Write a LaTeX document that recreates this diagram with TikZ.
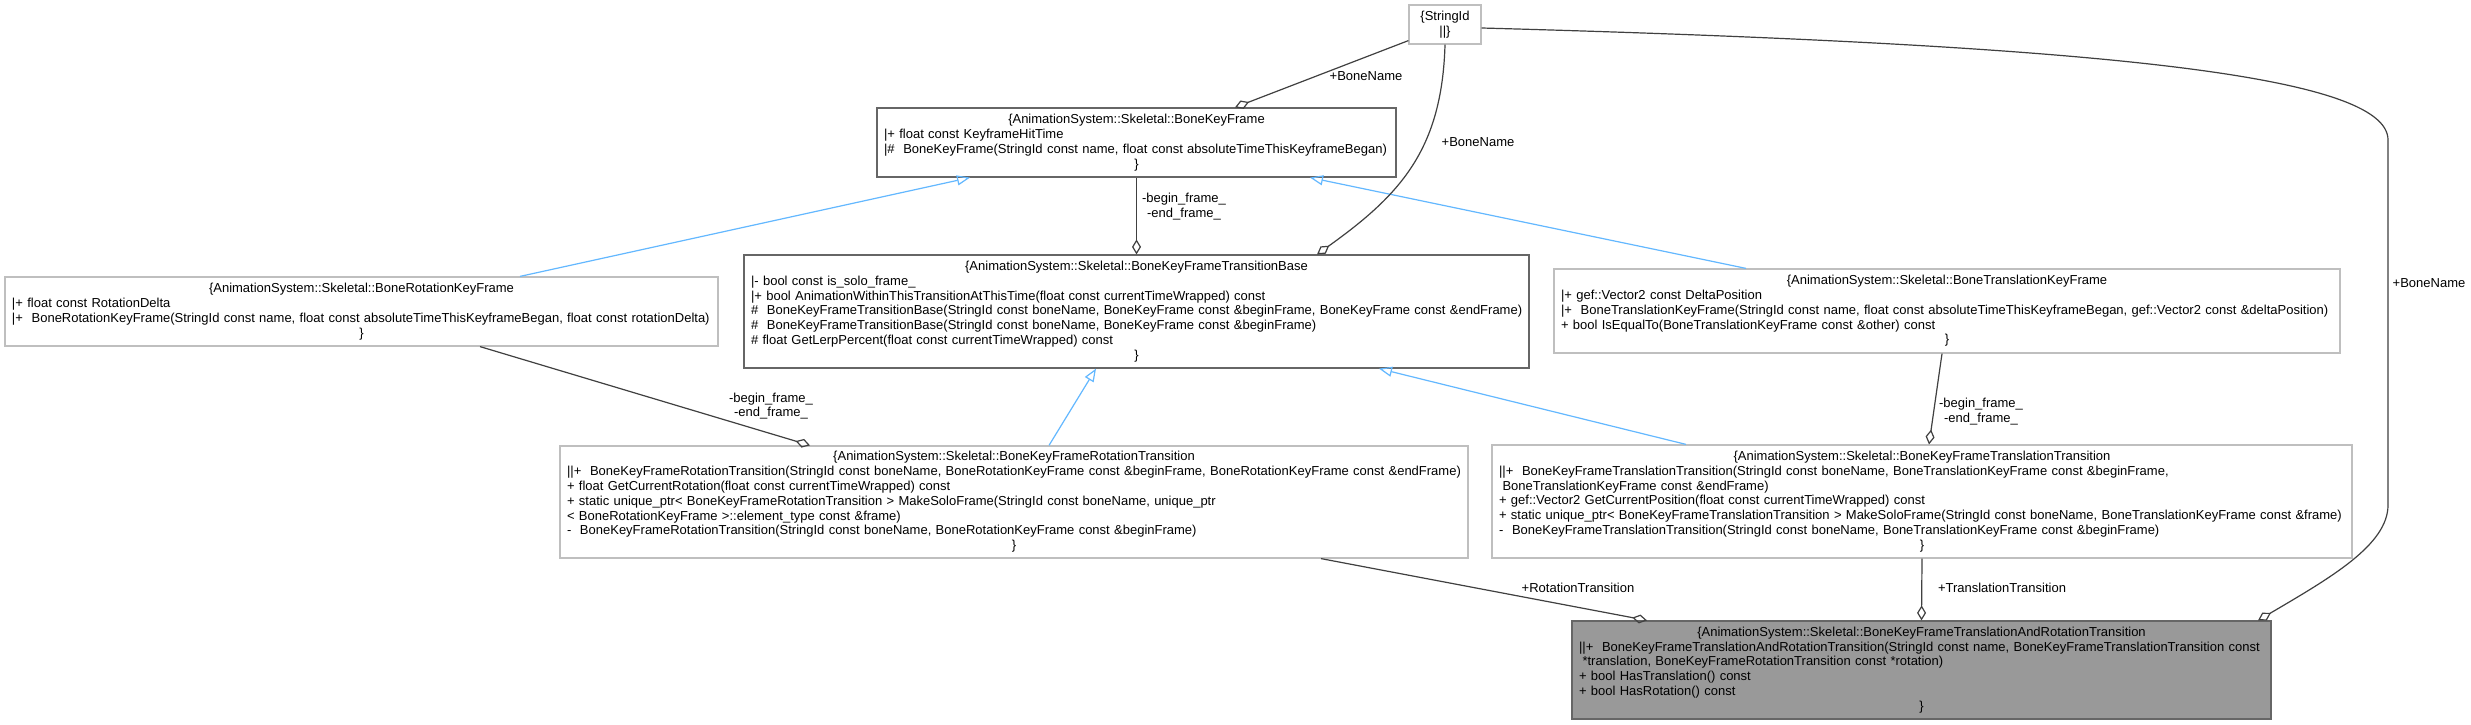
\documentclass[tikz,border=0pt]{standalone}
\usepackage{fontspec}
\setmainfont{Liberation Sans}
\usetikzlibrary{arrows.meta}

\definecolor{grisfonce}{HTML}{666666}
\definecolor{grisclair}{HTML}{BFBFBF}
\definecolor{fondgris}{HTML}{999999}
\definecolor{lienfonce}{HTML}{404040}
\definecolor{lienbleu}{HTML}{63B8FF}

\setlength{\parindent}{0pt}
\newcommand{\titre}[1]{\leavevmode\null\hskip0pt plus1filll #1\hskip0pt plus1filll\null}

\begin{document}
\begin{tikzpicture}
  [ x=1pt, y=-1pt,
    every node/.style={font=\fontsize{13}{14.8}\selectfont}]
  \tikzset{
    classe/.style={
      rectangle,
      draw=grisclair, fill=white, line width=1.2pt,
      inner xsep=7pt, inner ysep=0pt,
      align=left,
    },
    classedoc/.style={
      classe,
      draw=grisfonce,
    },
    classecible/.style={
      classe,
      draw=grisfonce, fill=fondgris,
    },
    etiq/.style={align=center, inner sep=0pt},
    agreg/.style={-{Diamond[open, length=15pt, width=9pt]}, draw=lienfonce, line width=1.2pt},
    herit/.style={-{Triangle[open, length=13pt, width=10pt]}, draw=lienbleu, line width=1.2pt},
  }

  \useasboundingbox[fill=white] (0,0) rectangle (2471,725);

  \node[classe, text width=58pt, minimum height=39pt] (stringid) at (1445,24.5)
    {\titre{\{StringId}\\\titre{||\}}};

  \node[classedoc, text width=505pt, minimum height=69pt] (keyframe) at (1136.5,142.5)
    {\titre{\{AnimationSystem::Skeletal::BoneKeyFrame}\\
     |+ float const KeyframeHitTime\\
     |\#~ BoneKeyFrame(StringId const name, float const absoluteTimeThisKeyframeBegan)\\
     \titre{\}}};

  \node[classedoc, text width=771pt, minimum height=113pt] (transbase) at (1136.5,311.5)
    {\titre{\{AnimationSystem::Skeletal::BoneKeyFrameTransitionBase}\\
     |- bool const is\_solo\_frame\_\\
     |+ bool AnimationWithinThisTransitionAtThisTime(float const currentTimeWrapped) const\\
     \mbox{\#~ BoneKeyFrameTransitionBase(StringId const boneName, BoneKeyFrame const \&beginFrame, BoneKeyFrame const \&endFrame)}\\
     \#~ BoneKeyFrameTransitionBase(StringId const boneName, BoneKeyFrame const \&beginFrame)\\
     \# float GetLerpPercent(float const currentTimeWrapped) const\\
     \titre{\}}};

  \node[classe, text width=699pt, minimum height=69pt] (rotkey) at (361.5,311.5)
    {\titre{\{AnimationSystem::Skeletal::BoneRotationKeyFrame}\\
     |+ float const RotationDelta\\
     |+~ BoneRotationKeyFrame(StringId const name, float const absoluteTimeThisKeyframeBegan, float const rotationDelta)\\
     \titre{\}}};

  \node[classe, text width=772pt, minimum height=84pt] (transkey) at (1947,311)
    {\titre{\{AnimationSystem::Skeletal::BoneTranslationKeyFrame}\\
     |+ gef::Vector2 const DeltaPosition\\
     |+~ BoneTranslationKeyFrame(StringId const name, float const absoluteTimeThisKeyframeBegan, gef::Vector2 const \&deltaPosition)\\
     + bool IsEqualTo(BoneTranslationKeyFrame const \&other) const\\
     \titre{\}}};

  \node[classe, text width=894pt, minimum height=112pt] (rottrans) at (1014,502)
    {\titre{\{AnimationSystem::Skeletal::BoneKeyFrameRotationTransition}\\
     ||+~ BoneKeyFrameRotationTransition(StringId const boneName, BoneRotationKeyFrame const \&beginFrame, BoneRotationKeyFrame const \&endFrame)\\
     + float GetCurrentRotation(float const currentTimeWrapped) const\\
     + static unique\_ptr< BoneKeyFrameRotationTransition > MakeSoloFrame(StringId const boneName, unique\_ptr\\
     < BoneRotationKeyFrame >::element\_type const \&frame)\\
     -~ BoneKeyFrameRotationTransition(StringId const boneName, BoneRotationKeyFrame const \&beginFrame)\\
     \titre{\}}};

  \node[classe, text width=846pt, minimum height=113pt] (transtrans) at (1922,501.5)
    {\titre{\{AnimationSystem::Skeletal::BoneKeyFrameTranslationTransition}\\
     ||+~ BoneKeyFrameTranslationTransition(StringId const boneName, BoneTranslationKeyFrame const \&beginFrame,\\
     \hspace*{3.5pt}BoneTranslationKeyFrame const \&endFrame)\\
     + gef::Vector2 GetCurrentPosition(float const currentTimeWrapped) const\\
     + static unique\_ptr< BoneKeyFrameTranslationTransition > MakeSoloFrame(StringId const boneName, BoneTranslationKeyFrame const \&frame)\\
     -~ BoneKeyFrameTranslationTransition(StringId const boneName, BoneTranslationKeyFrame const \&beginFrame)\\
     \titre{\}}};

  \node[classecible, text width=685pt, minimum height=98pt] (trtrans) at (1921.5,670)
    {\titre{\{AnimationSystem::Skeletal::BoneKeyFrameTranslationAndRotationTransition}\\
     ||+~ BoneKeyFrameTranslationAndRotationTransition(StringId const name, BoneKeyFrameTranslationTransition const\\
     \hspace*{3.5pt}*translation, BoneKeyFrameRotationTransition const *rotation)\\
     + bool HasTranslation() const\\
     + bool HasRotation() const\\
     \titre{\}}};

  \node[etiq] (nomos)   at (1366,76)   {+BoneName};
  \node[etiq] (nombase) at (1478,142)  {+BoneName};
  \node[etiq] (trames1) at (1184,206.5) {-begin\_frame\_\\-end\_frame\_};
  \node[etiq] (trames2) at (771,406)   {-begin\_frame\_\\-end\_frame\_};
  \node[etiq] (trames3) at (1981,411.5) {-begin\_frame\_\\-end\_frame\_};
  \node[etiq] (rotlien) at (1578,588)  {+RotationTransition};
  \node[etiq] (trlien)  at (2002,588)  {+TranslationTransition};
  \node[etiq] (nomcib)  at (2429,283)  {+BoneName};

  \draw[herit] ([xshift=158.5pt]rotkey.north) -- ([xshift=-166.5pt]keyframe.south);
  \draw[herit] ([xshift=-201pt]transkey.north) -- ([xshift=173.5pt]keyframe.south);
  \draw[herit] ([xshift=35pt]rottrans.north) -- ([xshift=-40.5pt]transbase.south);
  \draw[herit] ([xshift=-236pt]transtrans.north) -- ([xshift=242.5pt]transbase.south);

  \draw[agreg] ([yshift=4pt]stringid.south west) -- ([xshift=98.5pt]keyframe.north);
  \draw[agreg] (stringid.south)
    .. controls (1442,150) and (1400,195) ..
    ([xshift=180.5pt]transbase.north);
  \draw[agreg] (keyframe.south) -- (transbase.north);
  \draw[agreg] ([xshift=118.5pt]rotkey.south) -- ([xshift=-204pt]rottrans.north);
  \draw[agreg] ([xshift=-5pt]transkey.south) -- ([xshift=7pt]transtrans.north);
  \draw[agreg] ([xshift=307pt]rottrans.south) -- ([xshift=-274.5pt]trtrans.north);
  \draw[agreg] (transtrans.south) -- (trtrans.north);
  \draw[agreg] ([yshift=-3.5pt]stringid.east)
    .. controls (2100,45) and (2388,75) .. (2388,140)
    -- (2388,505)
    .. controls (2388,545) and (2330,578) ..
    ([xshift=336.5pt]trtrans.north);
\end{tikzpicture}
\end{document}
